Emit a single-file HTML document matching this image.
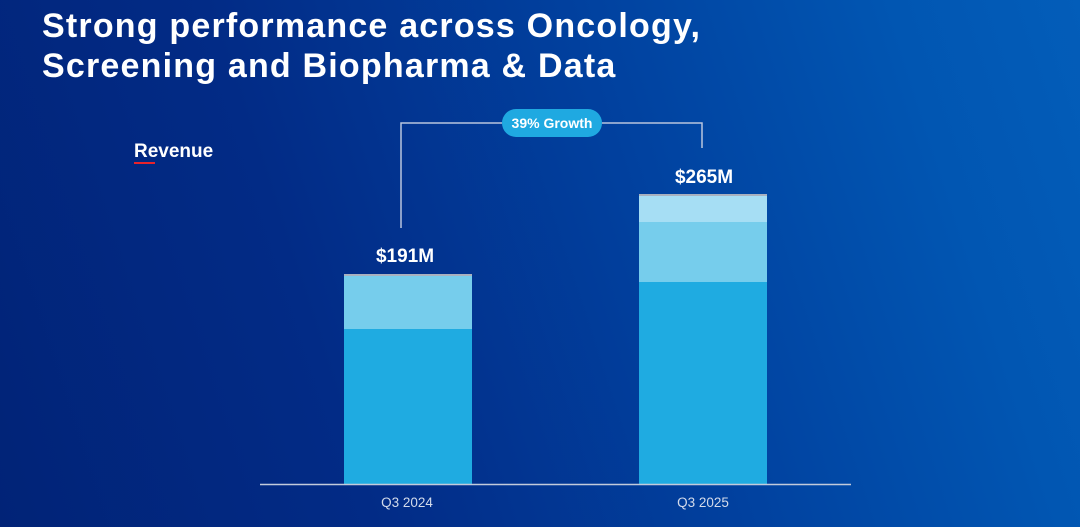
<!DOCTYPE html>
<html><head><meta charset="utf-8"><style>
html,body{margin:0;padding:0}
body{width:1080px;height:527px;overflow:hidden;position:relative;
background:linear-gradient(72deg,#012377 0%,#022b86 30%,#01419f 60%,#0156b2 85%,#035db9 100%);
font-family:"Liberation Sans",Arial,sans-serif;}
.t{position:absolute;white-space:nowrap;color:#fff;font-weight:bold}
</style></head><body>
<div class="t" style="left:42px;top:6px;font-size:34px;letter-spacing:1.2px;line-height:40px">Strong performance across Oncology,<br>Screening and Biopharma &amp; Data</div>
<div class="t" style="left:134px;top:141px;font-size:19px;line-height:22px">Revenue</div>
<div style="position:absolute;left:134px;top:162px;width:21px;height:2px;background:#e8232b"></div>
<svg width="1080" height="527" style="position:absolute;left:0;top:0" xmlns="http://www.w3.org/2000/svg">
<polyline points="401,228 401,123 502,123" fill="none" stroke="#b9c5de" stroke-width="1.5"/>
<polyline points="602,123 702,123 702,148" fill="none" stroke="#b9c5de" stroke-width="1.5"/>
<rect x="502" y="109" width="100" height="28" rx="14" fill="#1fa9e1"/>
<text x="552" y="128" text-anchor="middle" font-family="Liberation Sans, Arial, sans-serif" font-weight="bold" font-size="14" fill="#fff">39% Growth</text>
<!-- bar 1 -->
<rect x="344" y="329" width="128" height="155" fill="#1fabe1"/>
<rect x="344" y="276" width="128" height="53" fill="#76cdec"/>
<rect x="344" y="274" width="128" height="2" fill="#a9b1bf"/>
<!-- bar 2 -->
<rect x="639" y="282" width="128" height="202" fill="#1fabe1"/>
<rect x="639" y="222" width="128" height="60" fill="#76cdec"/>
<rect x="639" y="196" width="128" height="26" fill="#a6def4"/>
<rect x="639" y="194" width="128" height="2" fill="#a9b1bf"/>
<line x1="260" y1="484.5" x2="851" y2="484.5" stroke="#c3cbdb" stroke-width="1.5"/>
<text x="405" y="262" text-anchor="middle" font-family="Liberation Sans, Arial, sans-serif" font-weight="bold" font-size="19" fill="#fff">$191M</text>
<text x="704" y="183" text-anchor="middle" font-family="Liberation Sans, Arial, sans-serif" font-weight="bold" font-size="19" fill="#fff">$265M</text>
<text x="407" y="507" text-anchor="middle" font-family="Liberation Sans, Arial, sans-serif" font-size="13.5" fill="#d3dbeb">Q3 2024</text>
<text x="703" y="507" text-anchor="middle" font-family="Liberation Sans, Arial, sans-serif" font-size="13.5" fill="#d3dbeb">Q3 2025</text>
</svg>
</body></html>
